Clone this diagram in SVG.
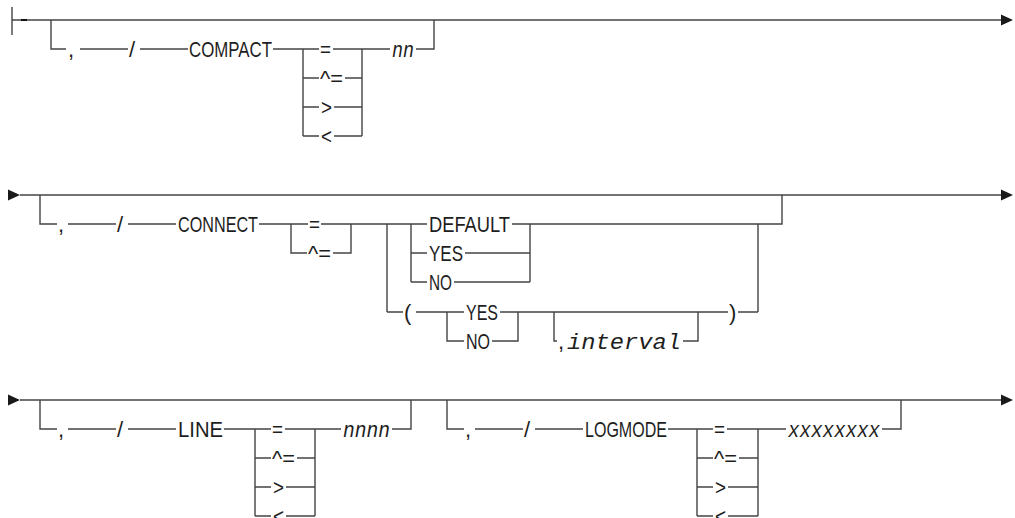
<svg xmlns="http://www.w3.org/2000/svg" xmlns:xlink="http://www.w3.org/1999/xlink" width="1015" height="518" viewBox="0 0 1015 518">
<style>
.ln{fill:none;stroke:#444;stroke-width:1.4}
.t{font-family:"Liberation Sans",Arial,sans-serif;font-size:22px;fill:#1e1e1e}
.v{font-family:"Liberation Mono","Courier New",monospace;font-style:italic;font-size:22px}
.ar{fill:#1a1a1a}
</style>
<defs>
<path id="arr" d="M0 -5.5 L12 0 L0 5.5 Z"/>
</defs>
<rect width="1015" height="518" fill="#fff"/>
<g id="connectors">
<path class="ln" d="M12 7V35M12 20H1002"/>
<path d="M21 20H27" stroke="#111" stroke-width="2"/>
<use href="#arr" x="1001" y="20" class="ar"/>
<path class="ln" d="M51 20V49H66M80 49H128M140 49H188M273 49H303M303 49V136M362 49V136M303 49H319M333 49H362M303 78H319M345 78H362M303 107H319M334 107H362M303 136H319M334 136H362M362 49H390M416 49H434V20"/>
<use href="#arr" x="8" y="195" class="ar"/>
<path class="ln" d="M20 195H1002"/>
<use href="#arr" x="1001" y="195" class="ar"/>
<path class="ln" d="M40 195V224H57M68 224H116M128 224H176M259 224H291M291 224V253H307M333 253H351V224M291 224H308M321 224H351M351 224H427M387 224V312M411 224V282M512 224H782V195M411 253H427M465 253H530M411 282H427M454 282H530M530 224V282M758 224V312M387 312H403M416 312H464M447 312V341H464M492 341H518V312M500 312H728M554 312V341H557M683 341H698V312M738 312H758"/>
<use href="#arr" x="8" y="400" class="ar"/>
<path class="ln" d="M20 400H1002"/>
<use href="#arr" x="1001" y="400" class="ar"/>
<path class="ln" d="M40 400V429H57M68 429H116M128 429H176M224 429H255M255 429V516M315 429V516M255 429H271M285 429H315M255 458H271M297 458H315M255 487H271M286 487H315M255 516H271M286 516H315M315 429H341M392 429H411V400"/>
<path class="ln" d="M447 400V429H464M475 429H523M535 429H583M668 429H697M697 429V516M758 429V516M697 429H713M727 429H758M697 458H713M739 458H758M697 487H713M728 487H758M697 516H713M728 516H758M758 429H786M882 429H901V400"/>
</g>
<g id="compact-kw">
<text class="t" x="68" y="57">,</text>
<text class="t" x="129" y="57">/</text>
<text class="t" x="189" y="57" textLength="83" lengthAdjust="spacingAndGlyphs">COMPACT</text>
</g>
<g id="compact-ops">
<text class="t" x="320" y="57" textLength="11" lengthAdjust="spacingAndGlyphs">=</text>
<text class="t" x="320" y="86" textLength="23" lengthAdjust="spacingAndGlyphs">^=</text>
<text class="t" x="321" y="115" textLength="11" lengthAdjust="spacingAndGlyphs">&gt;</text>
<text class="t" x="321" y="144" textLength="11" lengthAdjust="spacingAndGlyphs">&lt;</text>
</g>
<g id="compact-val"><text class="t v" x="392" y="57" textLength="22" lengthAdjust="spacingAndGlyphs">nn</text></g>
<g id="connect-kw">
<text class="t" x="58" y="232">,</text>
<text class="t" x="117" y="232">/</text>
<text class="t" x="178" y="232" textLength="80" lengthAdjust="spacingAndGlyphs">CONNECT</text>
</g>
<g id="connect-ops">
<text class="t" x="309" y="232" textLength="11" lengthAdjust="spacingAndGlyphs">=</text>
<text class="t" x="308" y="261" textLength="23" lengthAdjust="spacingAndGlyphs">^=</text>
</g>
<g id="connect-vals">
<text class="t" x="429" y="232" textLength="81" lengthAdjust="spacingAndGlyphs">DEFAULT</text>
<text class="t" x="429" y="261" textLength="34" lengthAdjust="spacingAndGlyphs">YES</text>
<text class="t" x="429" y="290" textLength="23" lengthAdjust="spacingAndGlyphs">NO</text>
</g>
<g id="connect-paren">
<text class="t" x="404" y="320">(</text>
<text class="t" x="466" y="320" textLength="32" lengthAdjust="spacingAndGlyphs">YES</text>
<text class="t" x="466" y="349" textLength="24" lengthAdjust="spacingAndGlyphs">NO</text>
<text class="t" x="558" y="349">,</text>
<text class="t v" x="567" y="349" textLength="114" lengthAdjust="spacingAndGlyphs">interval</text>
<text class="t" x="729" y="320">)</text>
</g>
<g id="line-kw">
<text class="t" x="58" y="437">,</text>
<text class="t" x="117" y="437">/</text>
<text class="t" x="178" y="437" textLength="45" lengthAdjust="spacingAndGlyphs">LINE</text>
</g>
<g id="line-ops">
<text class="t" x="272" y="437" textLength="11" lengthAdjust="spacingAndGlyphs">=</text>
<text class="t" x="272" y="466" textLength="23" lengthAdjust="spacingAndGlyphs">^=</text>
<text class="t" x="273" y="495" textLength="11" lengthAdjust="spacingAndGlyphs">&gt;</text>
<text class="t" x="273" y="524" textLength="11" lengthAdjust="spacingAndGlyphs">&lt;</text>
</g>
<g id="line-val"><text class="t v" x="343" y="437" textLength="47" lengthAdjust="spacingAndGlyphs">nnnn</text></g>
<g id="logmode-kw">
<text class="t" x="465" y="437">,</text>
<text class="t" x="524" y="437">/</text>
<text class="t" x="585" y="437" textLength="82" lengthAdjust="spacingAndGlyphs">LOGMODE</text>
</g>
<g id="logmode-ops">
<text class="t" x="714" y="437" textLength="11" lengthAdjust="spacingAndGlyphs">=</text>
<text class="t" x="714" y="466" textLength="23" lengthAdjust="spacingAndGlyphs">^=</text>
<text class="t" x="715" y="495" textLength="11" lengthAdjust="spacingAndGlyphs">&gt;</text>
<text class="t" x="715" y="524" textLength="11" lengthAdjust="spacingAndGlyphs">&lt;</text>
</g>
<g id="logmode-val"><text class="t v" x="788" y="437" textLength="92" lengthAdjust="spacingAndGlyphs">xxxxxxxx</text></g>
</svg>
